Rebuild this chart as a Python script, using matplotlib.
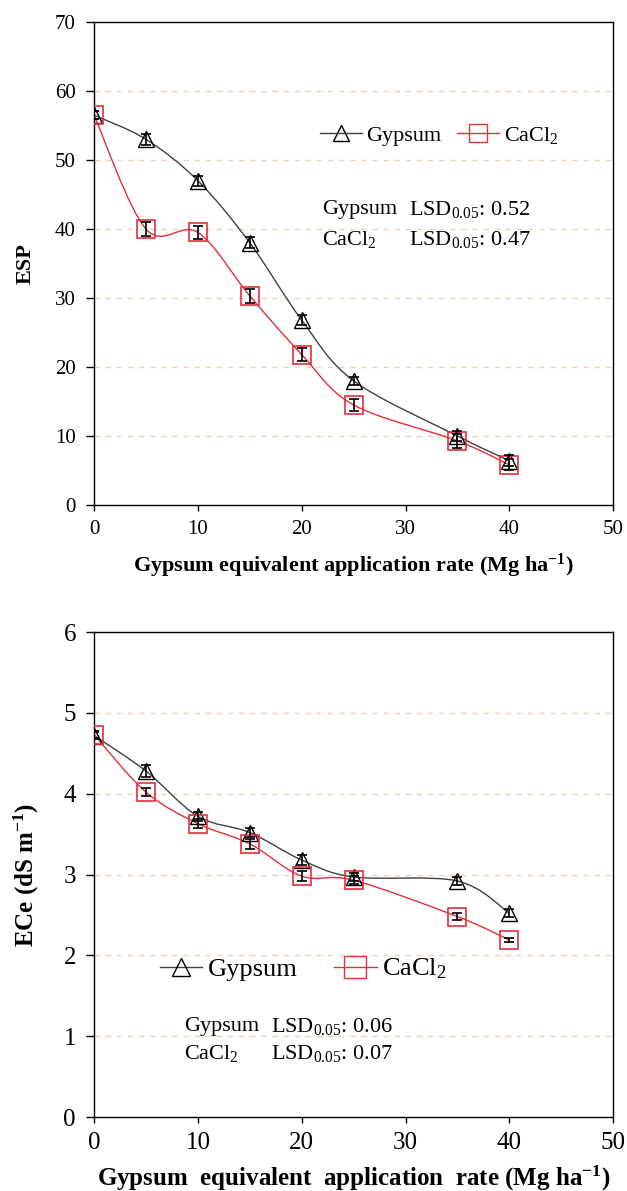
import numpy as np
import matplotlib
matplotlib.use('Agg')
from matplotlib import pyplot as plt
from matplotlib.path import Path
from matplotlib.patches import PathPatch
from matplotlib.lines import Line2D

plt.rcParams['font.family'] = ['Liberation Serif', 'DejaVu Serif']
plt.rcParams['mathtext.fontset'] = 'custom'
plt.rcParams['mathtext.rm'] = 'Liberation Serif'
plt.rcParams['mathtext.it'] = 'Liberation Serif:italic'
plt.rcParams['mathtext.bf'] = 'Liberation Serif:bold'

# data
rate = [0, 5, 10, 15, 20, 25, 35, 40]
esp_gyp = [56.5, 53.0, 47.0, 38.0, 26.8, 18.0, 10.0, 6.4]
esp_ca = [56.5, 40.0, 39.5, 30.3, 21.8, 14.5, 9.3, 5.8]
esp_gyp_err = [0.6, 0.8, 0.7, 0.8, 0.7, 0.6, 0.7, 0.8]
esp_ca_err = [0.6, 1.0, 0.9, 1.0, 1.0, 0.9, 1.0, 0.8]
ece_gyp = [4.72, 4.28, 3.72, 3.52, 3.18, 2.97, 2.92, 2.52]
ece_ca = [4.73, 4.02, 3.63, 3.38, 2.98, 2.93, 2.48, 2.19]
ece_gyp_err = [0.04, 0.07, 0.06, 0.05, 0.06, 0.05, 0.05, 0.05]
ece_ca_err = [0.04, 0.05, 0.06, 0.06, 0.06, 0.05, 0.04, 0.03]

RED = '#e2303c'
LINE_K = '#404040'
GRID = '#edd5bd'


def smooth_path(x, y):
    # Excel-style smoothed line: Bezier segments through the data points
    p = np.column_stack([x, y]).astype(float)
    ext = np.vstack([p[0], p, p[-1]])
    verts = [p[0]]
    codes = [Path.MOVETO]
    for i in range(len(p) - 1):
        p0, p1, p2, p3 = ext[i], ext[i + 1], ext[i + 2], ext[i + 3]
        c1 = p1 + (p2 - p0) / 6.0
        c2 = p2 - (p3 - p1) / 6.0
        verts += [c1, c2, p2]
        codes += [Path.CURVE4] * 3
    return Path(verts, codes)


def draw_panel(ax, ygyp, yca, egyp, eca, ymax, ystep, fs):
    ax.set_xlim(0, 50)
    ax.set_ylim(0, ymax)
    ax.set_xticks(np.arange(0, 51, 10))
    ax.set_yticks(np.arange(0, ymax + 0.001, ystep))
    for yv in np.arange(ystep, ymax, ystep):
        ax.axhline(yv, color=GRID, lw=1.0, ls=(0, (4, 4)), zorder=0)
    ax.add_patch(PathPatch(smooth_path(rate, ygyp), fill=False, ec=LINE_K, lw=1.0, zorder=2))
    ax.add_patch(PathPatch(smooth_path(rate, yca), fill=False, ec=RED, lw=1.0, zorder=2))
    ax.plot(rate, ygyp, ls='none', marker='^', ms=12, mfc='none', mec='black', mew=1.0, zorder=3)
    ax.plot(rate, yca, ls='none', marker='s', ms=12.5, mfc='none', mec=RED, mew=1.2, zorder=3)
    ax.errorbar(rate, ygyp, yerr=egyp, fmt='none', ecolor='black', elinewidth=1.2, capsize=3.5, capthick=1.2, zorder=4)
    ax.errorbar(rate, yca, yerr=eca, fmt='none', ecolor='black', elinewidth=1.2, capsize=3.5, capthick=1.2, zorder=4)
    for s in ax.spines.values():
        s.set_color('black')
        s.set_linewidth(1.0)
    ax.tick_params(axis='both', direction='out', width=1.0, labelsize=fs)
    ax.tick_params(axis='y', length=6, pad=7)
    ax.tick_params(axis='x', length=4, pad=7)
    ax.set_xticklabels([str(v) for v in range(0, 51, 10)])


fig = plt.figure(figsize=(6.27, 11.91), dpi=100)

# top panel: ESP
ax1 = fig.add_axes([0.150, 0.576, 0.828, 0.4055])
draw_panel(ax1, esp_gyp, esp_ca, esp_gyp_err, esp_ca_err, 70, 10, 15)
ax1.set_yticklabels([str(v) for v in range(0, 71, 10)])
ax1.set_ylabel('ESP', fontsize=16, fontweight='bold', labelpad=14)
ax1.set_xlabel('Gypsum equivalent application rate (Mg ha$^{\\mathbf{-1}}$)', fontsize=16, fontweight='bold', labelpad=9)

h1 = [Line2D([], [], color=LINE_K, lw=1.0, marker='^', ms=11, mfc='none', mec='black'),
      Line2D([], [], color=RED, lw=1.0, marker='s', ms=13, mfc='none', mec=RED)]
ax1.legend(h1, ['Gypsum', 'CaCl$_2$'], ncol=2, frameon=False, fontsize=16,
           handlelength=1.9, handletextpad=0.2, columnspacing=0.7,
           borderpad=0, borderaxespad=0,
           loc='center left', bbox_to_anchor=(0.435, 0.766))
ax1.text(0.439, 0.611, 'Gypsum', transform=ax1.transAxes, fontsize=16, va='center')
ax1.text(0.607, 0.611, 'LSD$_{0.05}$: 0.52', transform=ax1.transAxes, fontsize=16, va='center')
ax1.text(0.439, 0.549, 'CaCl$_2$', transform=ax1.transAxes, fontsize=16, va='center')
ax1.text(0.607, 0.549, 'LSD$_{0.05}$: 0.47', transform=ax1.transAxes, fontsize=16, va='center')

# bottom panel: ECe
ax2 = fig.add_axes([0.150, 0.0621, 0.828, 0.4072])
draw_panel(ax2, ece_gyp, ece_ca, ece_gyp_err, ece_ca_err, 6, 1, 18)
ax2.set_yticklabels([str(v) for v in range(0, 7)])
ax2.set_ylabel('ECe (dS m$^{\\mathbf{-1}}$)', fontsize=18, fontweight='bold', labelpad=16)
ax2.set_xlabel('Gypsum  equivalent  application  rate (Mg ha$^{\\mathbf{-1}}$)', fontsize=18, fontweight='bold', labelpad=7)

h2 = [Line2D([], [], color=LINE_K, lw=1.0, marker='^', ms=13, mfc='none', mec='black'),
      Line2D([], [], color=RED, lw=1.0, marker='s', ms=16, mfc='none', mec=RED)]
ax2.legend(h2, ['Gypsum', 'CaCl$_2$'], ncol=2, frameon=False, fontsize=19,
           handlelength=1.6, handletextpad=0.2, columnspacing=1.4,
           borderpad=0, borderaxespad=0,
           loc='center left', bbox_to_anchor=(0.127, 0.305))
ax2.text(0.173, 0.186, 'Gypsum', transform=ax2.transAxes, fontsize=16, va='center')
ax2.text(0.341, 0.186, 'LSD$_{0.05}$: 0.06', transform=ax2.transAxes, fontsize=16, va='center')
ax2.text(0.173, 0.132, 'CaCl$_2$', transform=ax2.transAxes, fontsize=16, va='center')
ax2.text(0.341, 0.132, 'LSD$_{0.05}$: 0.07', transform=ax2.transAxes, fontsize=16, va='center')

fig.savefig('out.png', dpi=100)
